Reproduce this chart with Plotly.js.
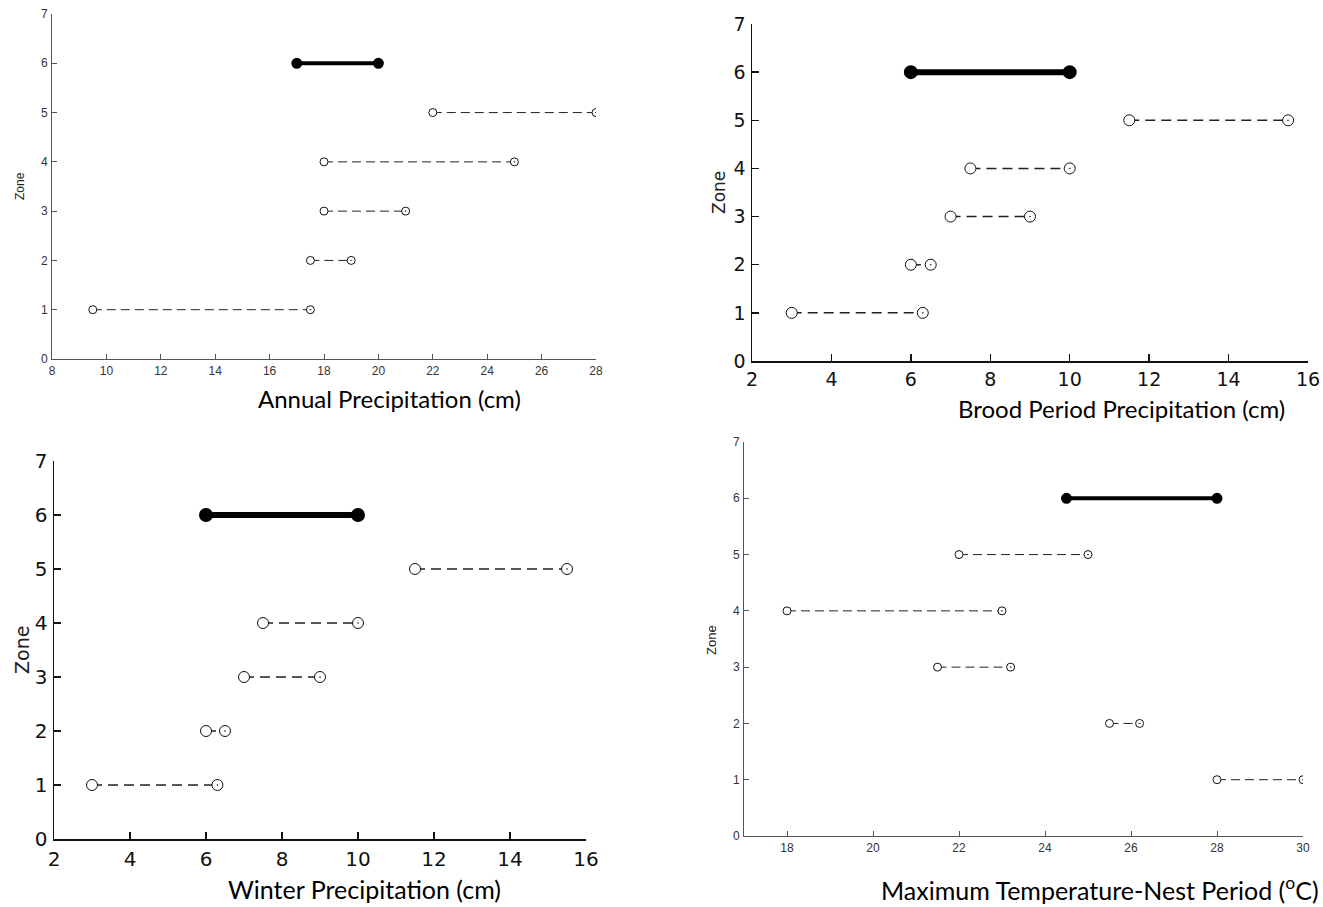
<!DOCTYPE html>
<html>
<head>
<meta charset="utf-8">
<script src="https://cdn.plot.ly/plotly-3.0.1.min.js"></script>
<style>
html,body{margin:0;padding:0;background:#fff;}
.subplot.x2y2 .xtick text, .subplot.x2y2 .ytick text,
.subplot.x3y3 .xtick text, .subplot.x3y3 .ytick text,
.narrow-txt text { font-stretch: condensed; }
</style>
</head>
<body>
<div id="chart" style="width:1323px;height:907px;"></div>
<script>
// ---- data ----
const zones = [1, 2, 3, 4, 5, 6];
const annualLow  = [9.5, 17.5, 18, 18, 22, 17];
const annualHigh = [17.5, 19, 21, 25, 28, 20];
const broodLow   = [3, 6, 7, 7.5, 11.5, 6];
const broodHigh  = [6.3, 6.5, 9, 10, 15.5, 10];
const winterLow  = [3, 6, 7, 7.5, 11.5, 6];
const winterHigh = [6.3, 6.5, 9, 10, 15.5, 10];
const tempLow    = [28, 25.5, 21.5, 18, 22, 24.5];
const tempHigh   = [30, 26.2, 23.2, 23, 25, 28];
const xTitles = ['Annual Precipitation (cm)', 'Brood Period Precipitation (cm)',
                 'Winter Precipitation (cm)', 'Maximum Temperature-Nest Period (<sup>o</sup>C)'];
const yTitle = 'Zone';
const yTicks = [0, 1, 2, 3, 4, 5, 6, 7];

// ---- layout helpers ----
const W = 1323, H = 907;
const fx = p => p / W;
const fy = p => 1 - p / H;
const narrow = 'Liberation Sans Narrow, DejaVu Sans, sans-serif';
const plain = 'Liberation Sans, Arial, sans-serif';
const titleFont = 'Lato, Open Sans, sans-serif';

const panels = [
  {low: annualLow, high: annualHigh, xr: [8, 28], dtick: 2, box: [52, 596, 14, 359],
   tickFont: {family: plain, size: 12, color: '#333'},
   axisColor: '#555', axisW: 1, tickLen: 5, dash: '9px,5px', lw: 1, thick: 4, msize: 8, thickM: 9,
   title: {x: 389, y: 398, size: 24}, zone: {x: 20, y: 186, size: 12, family: plain}},
  {low: broodLow, high: broodHigh, xr: [2, 16], dtick: 2, box: [752, 1308, 24, 361],
   tickFont: {family: narrow, size: 19, color: '#111'},
   axisColor: '#111', axisW: 1.5, tickLen: 7, dash: '10px,6px', lw: 1.5, thick: 6, msize: 11, thickM: 12,
   title: {x: 1121, y: 408, size: 24}, zone: {x: 719, y: 193, size: 17, family: narrow}},
  {low: winterLow, high: winterHigh, xr: [2, 16], dtick: 2, box: [54, 586, 461, 839],
   tickFont: {family: narrow, size: 20, color: '#111'},
   axisColor: '#111', axisW: 1.5, tickLen: 7, dash: '10px,6px', lw: 1.5, thick: 6, msize: 11, thickM: 12,
   title: {x: 364, y: 889, size: 25}, zone: {x: 22, y: 650, size: 19, family: narrow}},
  {low: tempLow, high: tempHigh, xr: [17, 30], dtick: 2, box: [744, 1303, 442, 836],
   tickFont: {family: plain, size: 12, color: '#333'},
   axisColor: '#555', axisW: 1, tickLen: 5, dash: '9px,5px', lw: 1, thick: 4, msize: 8, thickM: 9,
   title: {x: 1100, y: 888, size: 25}, zone: {x: 711, y: 640, size: 13, family: plain}}
];

const traces = [];
const layout = {
  width: W, height: H,
  margin: {l: 0, r: 0, t: 0, b: 0},
  paper_bgcolor: '#fff', plot_bgcolor: '#fff',
  showlegend: false,
  annotations: []
};

panels.forEach((p, k) => {
  const n = k + 1;
  const xa = 'x' + (n === 1 ? '' : n), ya = 'y' + (n === 1 ? '' : n);
  const xkey = 'xaxis' + (n === 1 ? '' : n), ykey = 'yaxis' + (n === 1 ? '' : n);
  zones.forEach((z, i) => {
    const isRef = z === 6;
    traces.push({
      type: 'scatter', mode: 'lines+markers', xaxis: xa, yaxis: ya,
      x: [p.low[i], p.high[i]], y: [z, z],
      line: {color: isRef ? '#000' : '#222', width: isRef ? p.thick : p.lw, dash: isRef ? 'solid' : p.dash},
      marker: isRef
        ? {symbol: 'circle', size: p.thickM, color: '#000', line: {color: '#000', width: 2}}
        : {symbol: ['circle', 'circle-dot'], size: p.msize, color: '#fff', line: {color: '#111', width: 1}},
      hoverinfo: 'x+y'
    });
  });
  layout[xkey] = {
    domain: [fx(p.box[0]), fx(p.box[1])], anchor: ya,
    range: p.xr, dtick: p.dtick, tick0: 0,
    showline: true, linecolor: p.axisColor, linewidth: p.axisW, mirror: false,
    ticks: 'inside', ticklen: p.tickLen, tickcolor: p.axisColor, tickwidth: p.axisW,
    showgrid: false, zeroline: false, tickfont: p.tickFont, ticklabelstandoff: 1
  };
  layout[ykey] = {
    domain: [fy(p.box[3]), fy(p.box[2])], anchor: xa,
    range: [0, 7], tickvals: yTicks,
    showline: true, linecolor: p.axisColor, linewidth: p.axisW, mirror: false,
    ticks: 'inside', ticklen: p.tickLen, tickcolor: p.axisColor, tickwidth: p.axisW,
    showgrid: false, zeroline: false, tickfont: p.tickFont, ticklabelstandoff: 1
  };
  layout.annotations.push({
    xref: 'paper', yref: 'paper', x: fx(p.title.x), y: fy(p.title.y),
    xanchor: 'center', yanchor: 'middle', showarrow: false,
    text: xTitles[k], font: {family: titleFont, size: p.title.size, color: '#000'}
  });
  layout.annotations.push({
    xref: 'paper', yref: 'paper', x: fx(p.zone.x), y: fy(p.zone.y),
    xanchor: 'center', yanchor: 'middle', showarrow: false, textangle: -90,
    text: yTitle, font: {family: p.zone.family, size: p.zone.size, color: '#222'}
  });
});

Plotly.newPlot('chart', traces, layout, {displayModeBar: false, staticPlot: true});
</script>
</body>
</html>
